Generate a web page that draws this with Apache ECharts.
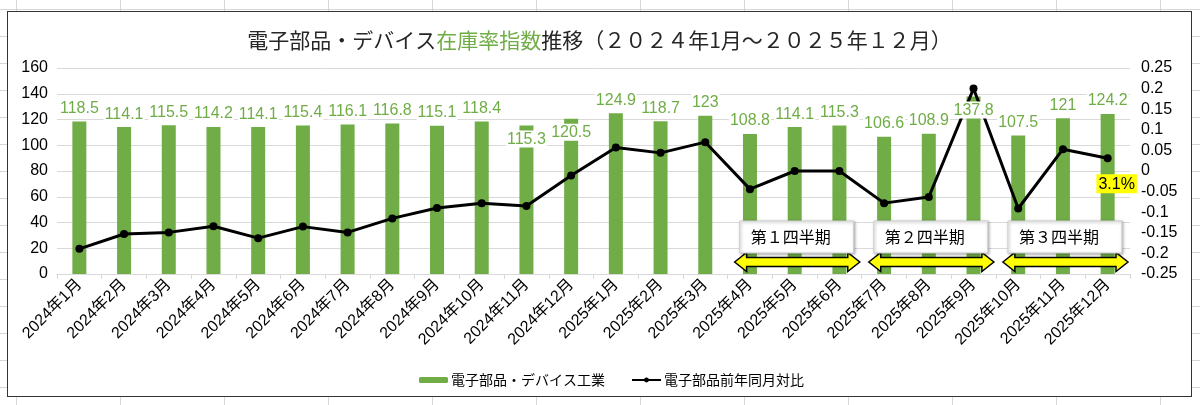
<!DOCTYPE html>
<html lang="ja">
<head>
    <meta charset="utf-8">
    <title>電子部品・デバイス在庫率指数推移</title>
    <script src="https://cdn.jsdelivr.net/npm/echarts@6/dist/echarts.min.js"></script>
    <style>
        html, body { margin: 0; width: 1200px; height: 405px; overflow: hidden; }
        body {
            background-color: #fff;
            background-image: linear-gradient(to right, #d6d6d6 1px, transparent 1px),
                              linear-gradient(to bottom, #d6d6d6 1px, transparent 1px);
            background-size: 104px 27px;
            background-position: 16px 9px;
        }
        #frame {
            position: absolute; left: 7px; top: 11px;
            width: 1185px; height: 386px; box-sizing: border-box;
            border: 1px solid #333; background: #fff;
        }
        #main { width: 1183px; height: 384px; }
    </style>
</head>
<body>
<div id="frame"><div id="main"></div></div>
<script type="text/javascript">
// カテゴリ（月）
var months = ['2024年1月', '2024年2月', '2024年3月', '2024年4月', '2024年5月', '2024年6月',
              '2024年7月', '2024年8月', '2024年9月', '2024年10月', '2024年11月', '2024年12月',
              '2025年1月', '2025年2月', '2025年3月', '2025年4月', '2025年5月', '2025年6月',
              '2025年7月', '2025年8月', '2025年9月', '2025年10月', '2025年11月', '2025年12月'];
// 在庫率指数（棒）
var inventoryIndex = [118.5, 114.1, 115.5, 114.2, 114.1, 115.4, 116.1, 116.8, 115.1, 118.4, 115.3, 120.5,
                      124.9, 118.7, 123, 108.8, 114.1, 115.3, 106.6, 108.9, 137.8, 107.5, 121, 124.2];
// 前年同月対比（折れ線）
var yoyChange = [-0.189, -0.153, -0.149, -0.134, -0.163, -0.135, -0.149, -0.115, -0.090, -0.078, -0.085, -0.011,
                 0.057, 0.044, 0.070, -0.044, 0.000, 0.000, -0.078, -0.063, 0.200, -0.091, 0.053, 0.031];
// 四半期の注記
var quarterNames = ['第１四半期', '第２四半期', '第３四半期'];
var quarterFrom = ['2025年4月', '2025年7月', '2025年10月'];
var quarterTo = ['2025年6月', '2025年9月', '2025年12月'];

var FONT = "'Liberation Sans', 'Noto Sans CJK JP', sans-serif";
var JP = "'Noto Sans CJK JP', sans-serif";
var GREEN = '#70ad47';

// ラベルを棒の内側に置く月（元図で手動で下げてある）
var insideLabel = [10, 11, 20];

var labelData = inventoryIndex.map(function (v, i) {
    if (insideLabel.indexOf(i) < 0) return v;
    return { value: v, label: { position: 'insideTop', distance: 5 } };
});

var lineData = yoyChange.map(function (v, i) {
    if (i !== yoyChange.length - 1) return v;
    return {
        value: v,
        label: {
            show: true, position: 'bottom', distance: 12, offset: [9, 0],
            formatter: function (p) { return (p.value * 100).toFixed(1) + '%'; },
            backgroundColor: '#ffff00', color: '#000', fontSize: 16,
            fontFamily: FONT, padding: [2, 2, 1, 2]
        }
    };
});

var quarterData = quarterNames.map(function (n, i) {
    return [months.indexOf(quarterFrom[i]), months.indexOf(quarterTo[i]), 0];
});

function renderQuarter(params, api) {
    var band = api.size([1, 0])[0];
    var p0 = api.coord([api.value(0), 0]);
    var x0 = p0[0] - band / 2;
    var x1 = api.coord([api.value(1), 0])[0] + band / 2;
    var base = p0[1];
    var ay = base - 12, ax0 = x0 + 7, ax1 = x1 - 2;
    var hl = 12, hh = 9.5, bh = 4.5;
    var pts = [[ax0, ay], [ax0 + hl, ay - hh], [ax0 + hl, ay - bh], [ax1 - hl, ay - bh],
               [ax1 - hl, ay - hh], [ax1, ay], [ax1 - hl, ay + hh], [ax1 - hl, ay + bh],
               [ax0 + hl, ay + bh], [ax0 + hl, ay + hh]];
    return {
        type: 'group',
        children: [
            { type: 'polygon', shape: { points: pts },
              style: { fill: '#ffff00', stroke: '#000', lineWidth: 1.5 } },
            { type: 'rect', shape: { x: x0 + 12, y: base - 53, width: 114, height: 32 },
              style: { fill: '#fff', stroke: '#d0d0d0', lineWidth: 1,
                       shadowBlur: 3, shadowColor: 'rgba(0,0,0,0.35)', shadowOffsetX: 1, shadowOffsetY: 1 } },
            { type: 'text',
              style: { text: quarterNames[params.dataIndex], x: x0 + 23, y: base - 37,
                       verticalAlign: 'middle', fill: '#000', font: '16px ' + JP } }
        ]
    };
}

var chart = echarts.init(document.getElementById('main'));
chart.setOption({
    animation: false,
    title: {
        text: '{k|電子部品・デバイス}{g|在庫率指数}{k|推移（２０２４年1月～２０２５年１２月）}',
        left: 'center',
        top: 13,
        textStyle: {
            fontWeight: 'normal',
            rich: {
                k: { fontSize: 21, color: '#262626', fontFamily: JP, fontWeight: 'normal' },
                g: { fontSize: 21, color: GREEN, fontFamily: JP, fontWeight: 'normal' }
            }
        }
    },
    legend: {
        data: ['電子部品・デバイス工業', '電子部品前年同月対比'],
        left: 406,
        top: 356,
        itemWidth: 29,
        itemHeight: 6,
        itemGap: 26,
        textStyle: { fontSize: 14, color: '#000', fontFamily: JP, padding: [0, 0, 0, -2] }
    },
    grid: { left: 49, right: 61, top: 56, bottom: 122 },
    xAxis: {
        type: 'category',
        data: months,
        axisLine: { lineStyle: { color: '#d9d9d9' } },
        axisTick: { show: true, length: 5, lineStyle: { color: '#d9d9d9' } },
        axisLabel: { interval: 0, rotate: 45, fontSize: 16, color: '#000', fontFamily: FONT, margin: 8 }
    },
    yAxis: [{
        type: 'value',
        min: 0, max: 160, interval: 20,
        axisLine: { show: false },
        axisTick: { show: false },
        splitLine: { lineStyle: { color: '#d9d9d9' } },
        axisLabel: { fontSize: 16, color: '#000', fontFamily: FONT, margin: 9 }
    }, {
        type: 'value',
        position: 'right',
        min: -0.25, max: 0.25, interval: 0.05,
        axisLine: { show: false },
        axisTick: { show: false },
        splitLine: { show: false },
        axisLabel: { fontSize: 16, color: '#000', fontFamily: FONT, margin: 11 }
    }],
    series: [{
        name: '電子部品・デバイス工業',
        type: 'bar',
        data: inventoryIndex,
        barWidth: 14,
        itemStyle: { color: GREEN },
        z: 2
    }, {
        name: '電子部品前年同月対比',
        type: 'line',
        yAxisIndex: 1,
        data: lineData,
        symbol: 'circle',
        symbolSize: 8,
        lineStyle: { color: '#000', width: 3 },
        itemStyle: { color: '#000' },
        z: 3
    }, {
        name: 'labels',
        type: 'bar',
        data: labelData,
        barWidth: 14,
        barGap: '-100%',
        silent: true,
        itemStyle: { color: 'rgba(0,0,0,0)' },
        label: {
            show: true, position: 'top', distance: 5,
            color: GREEN, fontSize: 16, fontFamily: FONT,
            backgroundColor: '#fff', padding: [1, 1, 0, 1]
        },
        z: 4
    }, {
        name: 'quarters',
        type: 'custom',
        data: quarterData,
        encode: { x: [0, 1], y: 2 },
        renderItem: renderQuarter,
        silent: true,
        z: 5
    }]
});
</script>
</body>
</html>
